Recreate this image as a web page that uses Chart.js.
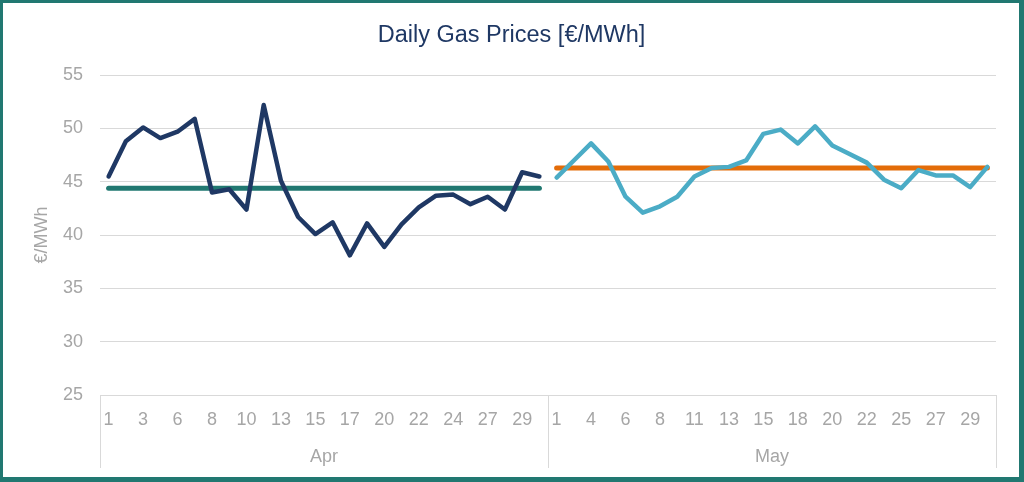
<!DOCTYPE html>
<html>
<head>
<meta charset="utf-8">
<script src="https://cdn.jsdelivr.net/npm/chart.js@4.4.1/dist/chart.umd.min.js"></script>
<style>
  html, body { margin: 0; padding: 0; background: #ffffff; }
  #frame {
    position: absolute; left: 0; top: 0;
    width: 1024px; height: 482px; box-sizing: border-box;
    border-style: solid; border-color: #217871;
    border-width: 3px 5px 5px 3px;
    background: #ffffff;
  }
  #wrap { position: relative; width: 1016px; height: 474px; }
</style>
</head>
<body>
<div id="frame"><div id="wrap"><canvas id="c"></canvas></div></div>
<script>
// ---- data ----
const aprDays = ['1','2','3','5','6','7','8','9','10','12','13','14','15','16','17','19','20','21','22','23','24','26','27','28','29','30'];
const mayDays = ['1','3','4','5','6','7','8','10','11','12','13','14','15','17','18','19','20','21','22','24','25','26','27','28','29','31'];
const months = ['Apr', 'May'];

const aprPrices = [45.5, 48.8, 50.1, 49.1, 49.7, 50.9, 44.0, 44.3, 42.4, 52.2, 45.1, 41.7, 40.1,
                   41.2, 38.1, 41.1, 38.9, 41.0, 42.6, 43.7, 43.8, 42.9, 43.6, 42.4, 45.9, 45.5];
const mayPrices = [45.4, 47.0, 48.6, 46.9, 43.6, 42.1, 42.7, 43.6, 45.5, 46.3, 46.4, 47.0, 49.5,
                   49.9, 48.6, 50.2, 48.4, 47.6, 46.8, 45.2, 44.4, 46.1, 45.6, 45.6, 44.5, 46.4];
const aprAverage = [44.4, 44.4, 44.4, 44.4, 44.4, 44.4, 44.4, 44.4, 44.4, 44.4, 44.4, 44.4, 44.4,
                    44.4, 44.4, 44.4, 44.4, 44.4, 44.4, 44.4, 44.4, 44.4, 44.4, 44.4, 44.4, 44.4];
const mayAverage = [46.3, 46.3, 46.3, 46.3, 46.3, 46.3, 46.3, 46.3, 46.3, 46.3, 46.3, 46.3, 46.3,
                    46.3, 46.3, 46.3, 46.3, 46.3, 46.3, 46.3, 46.3, 46.3, 46.3, 46.3, 46.3, 46.3];
const yTicks = [25, 30, 35, 40, 45, 50, 55];

// ---- build the chart table ----
const labels = aprDays.concat(mayDays);
const aprSpan = (arr) => arr.concat(mayDays.map(() => null));
const maySpan = (arr) => aprDays.map(() => null).concat(arr);

const FONT = "'Liberation Sans', Arial, sans-serif";
const GREY = '#a6a6a6';

const separators = {
  id: 'separators',
  afterDraw(chart) {
    const x = chart.scales.x, x2 = chart.scales.x2, area = chart.chartArea;
    const ctx = chart.ctx;
    const n = aprDays.length;
    const mid = (x.getPixelForValue(n - 1) + x.getPixelForValue(n)) / 2;
    ctx.save();
    ctx.strokeStyle = '#d9d9d9';
    ctx.lineWidth = 1;
    [area.left, mid, area.right].forEach(px => {
      const xx = Math.round(px) + 0.5;
      ctx.beginPath();
      ctx.moveTo(xx, area.bottom);
      ctx.lineTo(xx, x2.bottom);
      ctx.stroke();
    });
    ctx.restore();
  }
};

new Chart(document.getElementById('c'), {
  type: 'line',
  data: {
    labels: labels,
    datasets: [
      { label: 'Apr', data: aprSpan(aprPrices), borderColor: '#1f3864', borderWidth: 4.5,
        pointRadius: 0, tension: 0, spanGaps: false, borderJoinStyle: 'round', borderCapStyle: 'round' },
      { label: 'May', data: maySpan(mayPrices), borderColor: '#4bacc6', borderWidth: 4.5,
        pointRadius: 0, tension: 0, spanGaps: false, borderJoinStyle: 'round', borderCapStyle: 'round' },
      { label: 'Apr average', data: aprSpan(aprAverage), borderColor: '#217871', borderWidth: 5,
        pointRadius: 0, tension: 0, borderCapStyle: 'round' },
      { label: 'May average', data: maySpan(mayAverage), borderColor: '#e36c09', borderWidth: 5,
        pointRadius: 0, tension: 0, borderCapStyle: 'round' }
    ]
  },
  options: {
    responsive: true,
    maintainAspectRatio: false,
    animation: false,
    layout: { padding: { left: 24, right: 23, top: 0, bottom: 9 } },
    plugins: {
      legend: { display: false },
      tooltip: { enabled: false },
      title: {
        display: true,
        text: 'Daily Gas Prices [€/MWh]',
        color: '#1f3864',
        font: { family: FONT, size: 23.5, weight: 'normal' },
        padding: { top: 18, bottom: 26 }
      }
    },
    scales: {
      x: {
        type: 'category',
        offset: true,
        grid: { display: false, drawTicks: false },
        border: { display: false },
        ticks: {
          autoSkip: false, maxRotation: 0, minRotation: 0,
          color: GREY, font: { family: FONT, size: 18 }, padding: 14,
          callback: function (v, i) { return i % 2 === 0 ? this.getLabelForValue(v) : ''; }
        },
        afterFit(s) { s.height = 36; }
      },
      x2: {
        type: 'category',
        labels: months,
        position: 'bottom',
        offset: true,
        grid: { display: false, drawTicks: false },
        border: { display: false },
        ticks: { color: GREY, font: { family: FONT, size: 18 }, padding: 15, maxRotation: 0 },
        afterFit(s) { s.height = 37; }
      },
      y: {
        min: 25, max: 55,
        afterBuildTicks(s) { s.ticks = yTicks.map(v => ({ value: v })); },
        grid: { color: '#d9d9d9', lineWidth: 1, drawTicks: false },
        border: { display: false },
        ticks: { color: GREY, font: { family: FONT, size: 18 }, padding: 17 },
        title: { display: true, text: '€/MWh', color: GREY, font: { family: FONT, size: 18 } },
        afterFit(s) { s.width = 73; }
      }
    }
  },
  plugins: [separators]
});
</script>
</body>
</html>
